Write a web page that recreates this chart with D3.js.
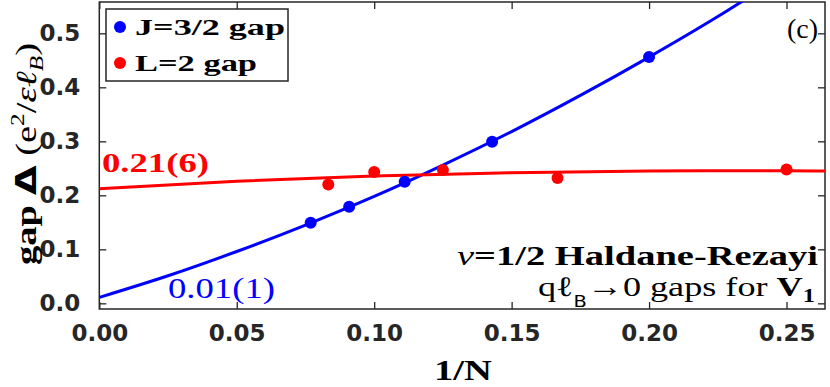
<!DOCTYPE html>
<html>
<head>
<meta charset="utf-8">
<script src="https://cdn.jsdelivr.net/npm/d3@7"></script>
<style>
  body { margin: 0; background: #fff; }
  .tick text { font-family: "DejaVu Sans", sans-serif; font-weight: bold; font-size: 23px; fill: #262626; }
  .serif { font-family: "Liberation Serif", "DejaVu Serif", serif; }
</style>
</head>
<body>
<div id="chart"></div>
<script>
// measured points (1/N, gap)
const blueX = [0.0769, 0.0909, 0.1111, 0.1429, 0.2];
const blueY = [0.149, 0.179, 0.225, 0.299, 0.456];
const redX = [0.0833, 0.1, 0.125, 0.1667, 0.25];
const redY = [0.220, 0.243, 0.247, 0.232, 0.248];

// fit curves
const blueFitX = [0, 0.025, 0.05, 0.075, 0.1, 0.125, 0.15, 0.175, 0.2, 0.225, 0.24];
const blueFitY = [0.011, 0.051, 0.096, 0.145, 0.198, 0.256, 0.318, 0.385, 0.456, 0.531, 0.579];
const redFitX = [0, 0.05, 0.1, 0.15, 0.2, 0.25, 0.265];
const redFitY = [0.212, 0.226, 0.236, 0.242, 0.245, 0.2455, 0.245];

const xTicks = [0, 0.05, 0.1, 0.15, 0.2, 0.25];
const yTicks = [0, 0.1, 0.2, 0.3, 0.4, 0.5];

const W = 830, H = 387;
const pLeft = 99.3, pRight = 825, pTop = 2, pBottom = 309;

const svg = d3.select('#chart').append('svg')
    .attr('width', W)
    .attr('height', H);

const x = d3.scaleLinear().domain([0, 0.264]).range([pLeft, pRight]);
const y = d3.scaleLinear().domain([-0.0105, 0.558]).range([pBottom, pTop]);

const axisColor = '#262626';

svg.append('defs').append('clipPath').attr('id', 'clip')
    .append('rect')
        .attr('x', pLeft).attr('y', pTop)
        .attr('width', pRight - pLeft).attr('height', pBottom - pTop);

// axes with inward ticks on all sides
const styleAxis = g => {
    g.select('.domain').remove();
    g.selectAll('.tick line').attr('stroke', axisColor).attr('stroke-width', 1.3);
};

svg.append('g')
    .attr('transform', `translate(0,${pBottom})`)
    .call(d3.axisBottom(x).tickValues(xTicks).tickFormat(d3.format('.2f')).tickSize(-7).tickPadding(16))
    .call(styleAxis);
svg.append('g')
    .attr('transform', `translate(0,${pTop})`)
    .call(d3.axisTop(x).tickValues(xTicks).tickFormat('').tickSize(-7))
    .call(styleAxis);
svg.append('g')
    .attr('transform', `translate(${pLeft},0)`)
    .call(d3.axisLeft(y).tickValues(yTicks).tickFormat(d3.format('.1f')).tickSize(-7).tickPadding(19))
    .call(styleAxis);
svg.append('g')
    .attr('transform', `translate(${pRight},0)`)
    .call(d3.axisRight(y).tickValues(yTicks).tickFormat('').tickSize(-7))
    .call(styleAxis);

svg.append('rect')
    .attr('x', pLeft).attr('y', pTop)
    .attr('width', pRight - pLeft).attr('height', pBottom - pTop)
    .attr('fill', 'none')
    .attr('stroke', axisColor)
    .attr('stroke-width', 1.5);

const line = d3.line()
    .x(d => x(d[0]))
    .y(d => y(d[1]))
    .curve(d3.curveMonotoneX);

const plot = svg.append('g').attr('clip-path', 'url(#clip)');

plot.append('path')
    .attr('d', line(d3.zip(blueFitX, blueFitY)))
    .attr('fill', 'none').attr('stroke', '#0000ff').attr('stroke-width', 3);
plot.append('path')
    .attr('d', line(d3.zip(redFitX, redFitY)))
    .attr('fill', 'none').attr('stroke', '#ff0000').attr('stroke-width', 3);

plot.selectAll('.bdot')
    .data(d3.zip(blueX, blueY))
    .enter().append('circle')
        .attr('cx', d => x(d[0])).attr('cy', d => y(d[1]))
        .attr('r', 6).attr('fill', '#0000ff');
plot.selectAll('.rdot')
    .data(d3.zip(redX, redY))
    .enter().append('circle')
        .attr('cx', d => x(d[0])).attr('cy', d => y(d[1]))
        .attr('r', 6).attr('fill', '#ff0000');

// legend
const legend = svg.append('g');
legend.append('rect')
    .attr('x', 106).attr('y', 9).attr('width', 182).attr('height', 72)
    .attr('fill', '#fff').attr('stroke', axisColor).attr('stroke-width', 1.5);
const legendItems = [
    { label: 'J=3/2 gap', color: '#0000ff', len: 150 },
    { label: 'L=2 gap', color: '#ff0000', len: 122 }
];
legendItems.forEach((d, i) => {
    legend.append('circle')
        .attr('cx', 120).attr('cy', 27 + i * 36).attr('r', 6).attr('fill', d.color);
    legend.append('text')
        .attr('class', 'serif')
        .attr('x', 135).attr('y', 35 + i * 36)
        .attr('font-size', 24).attr('font-weight', 'bold')
        .attr('textLength', d.len).attr('lengthAdjust', 'spacingAndGlyphs')
        .attr('fill', '#000')
        .text(d.label);
});

// annotations
svg.append('text').attr('class', 'serif')
    .attr('x', 102).attr('y', 172)
    .attr('font-size', 28).attr('font-weight', 'bold').attr('fill', '#ff0000')
    .attr('textLength', 107).attr('lengthAdjust', 'spacingAndGlyphs')
    .text('0.21(6)');
svg.append('text').attr('class', 'serif')
    .attr('x', 168).attr('y', 298)
    .attr('font-size', 30).attr('fill', '#0000ff')
    .attr('textLength', 107).attr('lengthAdjust', 'spacingAndGlyphs')
    .text('0.01(1)');
svg.append('text').attr('class', 'serif')
    .attr('x', 818).attr('y', 38).attr('text-anchor', 'end')
    .attr('font-size', 28).attr('fill', '#000')
    .text('(c)');

const t1 = svg.append('text').attr('class', 'serif')
    .attr('x', 457).attr('y', 265)
    .attr('font-size', 28).attr('fill', '#000')
    .attr('textLength', 361).attr('lengthAdjust', 'spacingAndGlyphs');
t1.append('tspan').attr('font-style', 'italic').text('ν');
t1.append('tspan').attr('font-weight', 'bold').text('=1/2 Haldane-Rezayi');

const t2 = svg.append('text').attr('class', 'serif')
    .attr('x', 538).attr('y', 296)
    .attr('font-size', 28).attr('fill', '#000')
    .attr('textLength', 277).attr('lengthAdjust', 'spacingAndGlyphs');
t2.append('tspan').text('qℓ');
t2.append('tspan').attr('font-family', 'DejaVu Sans').attr('font-size', 15).attr('dy', 11).text('B');
t2.append('tspan').attr('dy', -11).text('→0 gaps for ');
t2.append('tspan').attr('font-weight', 'bold').text('V');
t2.append('tspan').attr('font-weight', 'bold').attr('font-size', 19).attr('dy', 6).text('1');

// axis labels
svg.append('text').attr('class', 'serif')
    .attr('x', 434).attr('y', 380)
    .attr('font-size', 29).attr('font-weight', 'bold').attr('fill', '#000')
    .attr('textLength', 58).attr('lengthAdjust', 'spacingAndGlyphs')
    .text('1/N');

const yl = svg.append('text').attr('class', 'serif')
    .attr('transform', 'translate(36,265) rotate(-90)')
    .attr('font-size', 29).attr('fill', '#000')
    .attr('textLength', 222).attr('lengthAdjust', 'spacingAndGlyphs');
yl.append('tspan').attr('font-weight', 'bold').text('gap ');
yl.append('tspan').attr('font-family', 'DejaVu Sans').attr('font-weight', 'bold').text('Δ');
yl.append('tspan').text(' (e');
yl.append('tspan').attr('font-size', 19).attr('dy', -12).text('2');
yl.append('tspan').attr('dy', 12).text('/');
yl.append('tspan').attr('font-style', 'italic').text('εℓ');
yl.append('tspan').attr('font-style', 'italic').attr('font-size', 19).attr('dy', 7).text('B');
yl.append('tspan').attr('dy', -7).text(')');
</script>
</body>
</html>
